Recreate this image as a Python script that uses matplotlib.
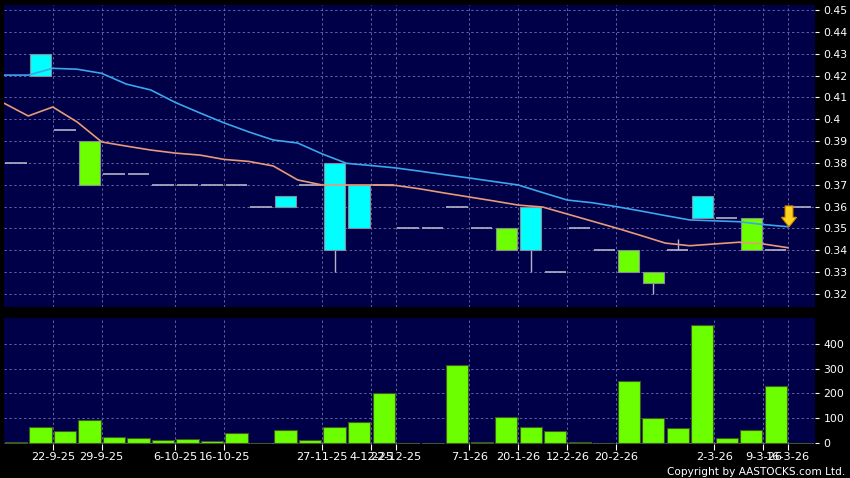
import matplotlib
matplotlib.use("Agg")
import matplotlib.pyplot as plt
from matplotlib.patches import FancyArrow
import numpy as np

# ---------------- data ----------------
opens  = [0.38, 0.42, 0.395, 0.39, 0.375, 0.375, 0.37, 0.37, 0.37, 0.37, 0.36, 0.36, 0.37,
          0.34, 0.35, 0.37, 0.35, 0.35, 0.36, 0.35, 0.35, 0.34, 0.33, 0.35, 0.34, 0.34,
          0.33, 0.34, 0.355, 0.355, 0.355, 0.34, 0.36]
closes = [0.38, 0.43, 0.395, 0.37, 0.375, 0.375, 0.37, 0.37, 0.37, 0.37, 0.36, 0.365, 0.37,
          0.38, 0.37, 0.37, 0.35, 0.35, 0.36, 0.35, 0.34, 0.36, 0.33, 0.35, 0.34, 0.33,
          0.325, 0.34, 0.365, 0.355, 0.34, 0.34, 0.36]
highs  = [0.38, 0.43, 0.395, 0.39, 0.375, 0.375, 0.37, 0.37, 0.37, 0.37, 0.36, 0.365, 0.37,
          0.38, 0.37, 0.37, 0.35, 0.35, 0.36, 0.35, 0.35, 0.36, 0.33, 0.35, 0.34, 0.34,
          0.33, 0.345, 0.365, 0.355, 0.355, 0.34, 0.36]
lows   = [0.38, 0.42, 0.395, 0.37, 0.375, 0.375, 0.37, 0.37, 0.37, 0.37, 0.36, 0.36, 0.37,
          0.33, 0.35, 0.37, 0.35, 0.35, 0.36, 0.35, 0.34, 0.33, 0.33, 0.35, 0.34, 0.33,
          0.32, 0.34, 0.355, 0.355, 0.34, 0.34, 0.36]
volumes = [3, 64, 47, 94, 25, 20, 11, 17, 9, 39, 0, 52, 12, 63, 83, 200, 0, 0, 314, 4,
           106, 63, 48, 4, 0, 250, 99, 59, 475, 20, 54, 230, 0]
ma_cyan = [0.4202, 0.4202, 0.4233, 0.4229, 0.4210, 0.4161, 0.4134, 0.4077, 0.4029, 0.3983,
           0.3942, 0.3905, 0.3891, 0.3841, 0.3798, 0.3788, 0.3777, 0.3762, 0.3746, 0.3731,
           0.3715, 0.3699, 0.3664, 0.3630, 0.3618, 0.3600, 0.3580, 0.3559, 0.3539, 0.3535,
           0.3531, 0.3518, 0.3508]
ma_orange = [0.4074, 0.4015, 0.4056, 0.3987, 0.3896, 0.3877, 0.3859, 0.3845, 0.3836, 0.3816,
             0.3807, 0.3786, 0.3722, 0.3699, 0.3699, 0.3699, 0.3697, 0.3681, 0.3662, 0.3644,
             0.3626, 0.3607, 0.3598, 0.3566, 0.3534, 0.3502, 0.3468, 0.3433, 0.3421, 0.3429,
             0.3437, 0.3429, 0.3412]
tick_index = [1, 3, 6, 8, 12, 14, 15, 18, 20, 22, 24, 28, 30, 31]
tick_labels = ["22-9-25", "29-9-25", "6-10-25", "16-10-25", "27-11-25", "4-12-25", "22-12-25",
               "7-1-26", "20-1-26", "12-2-26", "20-2-26", "2-3-26", "9-3-26", "16-3-26"]
price_ticks = [0.32, 0.33, 0.34, 0.35, 0.36, 0.37, 0.38, 0.39, 0.40, 0.41, 0.42, 0.43, 0.44, 0.45]
vol_ticks = [0, 100, 200, 300, 400]

# ---------------- style ----------------
BG = "#000048"
GRID = "#5e5ea0"
UP = "#00ffff"
DOWN = "#6cff00"
DOJI = "#b4b4c8"

plt.rcParams['font.family'] = ['DejaVu Sans']
fig = plt.figure(figsize=(8.5, 4.78), dpi=100, facecolor="black")
W, H = 850.0, 478.0
ax1 = fig.add_axes([4 / W, 1 - 307 / H, (815 - 4) / W, (307 - 5) / H])
ax2 = fig.add_axes([4 / W, 1 - 444 / H, (815 - 4) / W, (444 - 318) / H])

x = np.arange(len(opens))
o = np.array(opens); c = np.array(closes); hi = np.array(highs); lo = np.array(lows)

for ax in (ax1, ax2):
    ax.set_facecolor(BG)
    for s in ax.spines.values():
        s.set_visible(False)
    ax.set_xlim(-0.49, 32.61)
    ax.set_xticks(np.array(tick_index) + 0.5)
    ax.grid(True, color=GRID, linestyle=(0, (2.5, 2.5)), linewidth=0.7)
    ax.set_axisbelow(True)
    ax.yaxis.tick_right()
    ax.tick_params(axis='y', colors='white', labelcolor='white', length=3, width=0.8,
                   pad=3, labelsize=7.8)

# ---------------- candles ----------------
BW = 0.86
# wicks
wick_mask = (hi > np.maximum(o, c)) | (lo < np.minimum(o, c))
ax1.vlines(x[wick_mask], lo[wick_mask], hi[wick_mask], color=DOJI, linewidth=1.0, zorder=2)
doji = o == c
ax1.hlines(o[doji], x[doji] - BW / 2, x[doji] + BW / 2, color=DOJI, linewidth=1.2, zorder=3)
up = c > o
down = c < o
ax1.bar(x[up], (c - o)[up], bottom=o[up], width=BW, color=UP, edgecolor="#8a8a9a",
        linewidth=0.8, zorder=3)
ax1.bar(x[down], (o - c)[down], bottom=c[down], width=BW, color=DOWN, edgecolor="#8a8a9a",
        linewidth=0.8, zorder=3)

# moving averages (vertices drawn half a slot to the left, as in the source chart)
ax1.plot(x - 0.5, ma_cyan, color="#3aa6ee", linewidth=1.2, zorder=4)
ax1.plot(x - 0.5, ma_orange, color="#e89a78", linewidth=1.2, zorder=4)

# arrow marking last MA value
ax_x = x[-1] - 0.45
tip = ma_cyan[-1]
ax1.add_patch(FancyArrow(ax_x, tip + 0.0095, 0, -0.0095, width=0.32, head_width=0.62,
                         head_length=0.0043, length_includes_head=True,
                         facecolor="#ffd21e", edgecolor="#d88a00", linewidth=0.8, zorder=6))

ax1.set_ylim(0.31405, 0.45229)
ax1.set_yticks(price_ticks)
ax1.set_yticklabels([f"{v:g}" for v in price_ticks])
ax1.tick_params(axis='x', length=0, labelbottom=False)

# ---------------- volume ----------------
ax2.bar(x, volumes, width=0.9, color=DOWN, edgecolor="#3c5a22", linewidth=0.8, zorder=3)
ax2.set_ylim(-4, 504)
ax2.set_yticks(vol_ticks)
ax2.set_yticklabels([str(v) for v in vol_ticks])
ax2.set_xticklabels(tick_labels)
ax2.tick_params(axis='x', colors='white', labelcolor='white', length=4, width=0.8,
                pad=2, labelsize=8.2)

fig.text(845 / W, 1 - 472 / H, "Copyright by AASTOCKS.com Ltd.", color="white",
         ha="right", va="center", fontsize=7.6)

fig.savefig("out.png", dpi=100, facecolor="black")
